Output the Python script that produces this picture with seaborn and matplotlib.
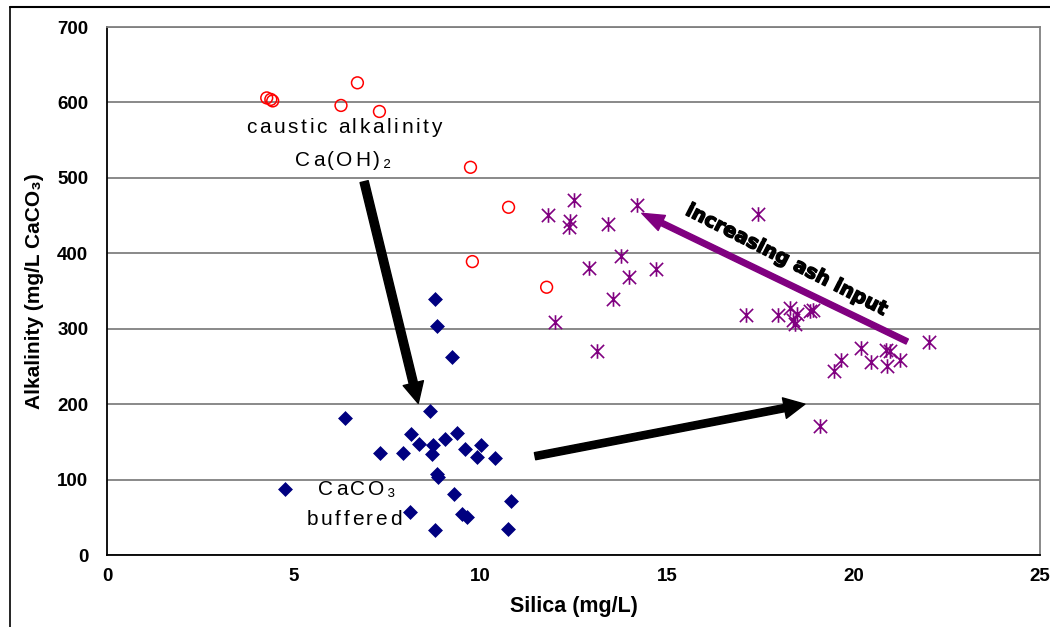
import matplotlib
matplotlib.use("Agg")
import matplotlib.pyplot as plt
from matplotlib.path import Path
from matplotlib.patches import FancyArrowPatch
from matplotlib.lines import Line2D
from matplotlib.ticker import MultipleLocator
from matplotlib.font_manager import FontProperties
from matplotlib import transforms
import matplotlib.patheffects as pe
import pandas as pd
import seaborn as sns

# Caustic (Ca(OH)2) samples
caustic_silica = [4.28, 4.39, 4.44, 6.71, 6.27, 7.30, 9.74, 10.76, 9.79, 11.78]
caustic_alk = [606, 604, 602, 626, 596, 588, 514, 461, 389, 355]

# CaCO3-buffered samples
buffered_silica = [8.79, 8.83, 9.24, 8.65, 6.38, 8.15, 9.37, 9.07, 8.37, 8.73,
                   10.01, 9.59, 7.31, 7.92, 8.70, 9.91, 10.40, 8.83, 8.88, 4.76,
                   9.30, 10.83, 8.12, 9.52, 9.64, 8.79, 10.74]
buffered_alk = [339, 304, 263, 191, 182, 160, 162, 154, 147, 146,
                146, 140, 135, 135, 134, 130, 128, 107, 104, 88,
                81, 72, 57, 55, 51, 33, 35]

# Ash-influenced samples
ash_silica = [12.51, 11.83, 12.41, 12.37, 13.43, 14.19, 17.44, 13.77, 12.92, 13.99,
              14.70, 13.57, 12.00, 13.14, 17.12, 17.99, 18.30, 18.48, 18.39, 18.44,
              18.84, 18.91, 19.10, 22.03, 19.48, 19.66, 20.20, 20.47, 20.87, 20.98,
              20.89, 21.25]
ash_alk = [471, 451, 443, 435, 439, 464, 452, 397, 381, 369,
           379, 340, 309, 270, 318, 318, 328, 320, 312, 306,
           323, 325, 171, 282, 244, 258, 274, 256, 272, 271,
           250, 258]

x_ticks = [0, 5, 10, 15, 20, 25]
y_ticks = [0, 100, 200, 300, 400, 500, 600, 700]

sns.set_style("white")
plt.rcParams["font.family"] = ["Liberation Sans", "DejaVu Sans"]
for key in ("text.color", "axes.labelcolor", "xtick.color", "ytick.color"):
    plt.rcParams[key] = "black"

caustic = pd.DataFrame({"silica": caustic_silica, "alkalinity": caustic_alk})
buffered = pd.DataFrame({"silica": buffered_silica, "alkalinity": buffered_alk})
ash = pd.DataFrame({"silica": ash_silica, "alkalinity": ash_alk})

fig = plt.figure(figsize=(10.5, 6.27), dpi=100)
ax = fig.add_axes([107 / 1050, 1 - 555 / 627, (1040 - 107) / 1050, (555 - 27) / 627])

# six-armed star marker: an X with a vertical bar
star = Path([(-1, -1), (1, 1), (-1, 1), (1, -1), (0, -1.1), (0, 1.1)],
            [Path.MOVETO, Path.LINETO] * 3)

sns.scatterplot(data=caustic, x="silica", y="alkalinity", ax=ax, marker="o", s=72,
                facecolor="none", edgecolor="#FF0000", linewidth=1.1, zorder=3)
sns.scatterplot(data=buffered, x="silica", y="alkalinity", ax=ax, marker="D", s=50,
                color="#000080", edgecolor="#000080", linewidth=0.5, zorder=3)
sns.scatterplot(data=ash, x="silica", y="alkalinity", ax=ax, marker=star, s=110,
                color="#800080", edgecolor="#800080", linewidth=1.2, zorder=3)

ax.set_xlim(0, 25)
ax.set_ylim(0, 700)
ax.set_xticks(x_ticks)
ax.set_yticks(y_ticks)
ax.xaxis.set_minor_locator(MultipleLocator(1))
ax.yaxis.set_minor_locator(MultipleLocator(20))
ax.tick_params(which="major", direction="inout", length=13, width=1.2, color="black",
               labelsize=13.5)
ax.tick_params(which="minor", direction="in", length=5, width=1, color="black")
ax.tick_params(axis="y", which="major", pad=7)
ax.tick_params(axis="x", which="major", pad=3)
for lab in ax.get_xticklabels() + ax.get_yticklabels():
    lab.set_fontweight("bold")

ax.yaxis.grid(True, color="#808080", linewidth=1.3, zorder=0)
ax.set_axisbelow(True)
for side in ("left", "bottom"):
    ax.spines[side].set_color("black")
    ax.spines[side].set_linewidth(1.3)
for side in ("top", "right"):
    ax.spines[side].set_color("#808080")
    ax.spines[side].set_linewidth(1.3)

ax.set_xlabel("Silica (mg/L)", fontsize=15.5, fontweight="bold")
ax.set_ylabel("Alkalinity (mg/L CaCO₃)", fontsize=15, fontweight="bold")
ax.xaxis.set_label_coords(0.5, -0.0966)
ax.xaxis.label.set_va("center")
ax.yaxis.set_label_coords(-0.078, 0.5)
ax.yaxis.label.set_va("center")

# letter-spaced annotation text
renderer = fig.canvas.get_renderer()


def spaced_text(x, y, s, size=15, tracking=2.6):
    prop = FontProperties(family=["Liberation Sans", "DejaVu Sans"], size=size)
    widths = [renderer.get_text_width_height_descent(ch, prop, ismath=False)[0]
              for ch in s]
    total = sum(widths) + tracking * (len(s) - 1)
    offset = -total / 2
    for ch, w in zip(s, widths):
        tr = transforms.offset_copy(ax.transData, fig=fig, x=offset, y=0, units="dots")
        ax.text(x, y, ch, transform=tr, ha="left", va="baseline",
                fontproperties=prop, color="black")
        offset += w + tracking


spaced_text(6.35, 560, "caustic alkalinity")
spaced_text(6.32, 516, "Ca(OH)₂")
spaced_text(6.69, 80, "CaCO₃")
spaced_text(6.62, 40, "buffered")


def arrow(start, end, color, tail, head_w, head_l):
    ax.add_patch(FancyArrowPatch(
        start, end, transform=ax.transData, shrinkA=0, shrinkB=0,
        arrowstyle=f"simple,head_length={head_l},head_width={head_w},tail_width={tail}",
        mutation_scale=10, color=color, zorder=4, clip_on=False))


arrow((6.89, 495), (8.34, 201), "black", 0.6, 1.5, 1.5)
arrow((11.47, 131), (18.70, 200), "black", 0.52, 1.5, 1.5)
arrow((21.44, 283), (14.33, 453), "#800080", 0.4, 1.2, 1.6)

ax.text(18.21, 391, "increasing ash input", rotation=-27, rotation_mode="anchor",
        ha="center", va="center", fontsize=14, fontweight="heavy",
        family=["DejaVu Sans"], color="black",
        path_effects=[pe.withStroke(linewidth=1.0, foreground="black")])

# outer frame
fig.add_artist(Line2D([10 / 1050, 1.0], [1 - 7 / 627, 1 - 7 / 627],
                      transform=fig.transFigure, color="black", lw=1.5))
fig.add_artist(Line2D([10 / 1050, 10 / 1050], [0.0, 1 - 7 / 627],
                      transform=fig.transFigure, color="black", lw=1.2))

fig.savefig("out.png", dpi=100, facecolor="white")
